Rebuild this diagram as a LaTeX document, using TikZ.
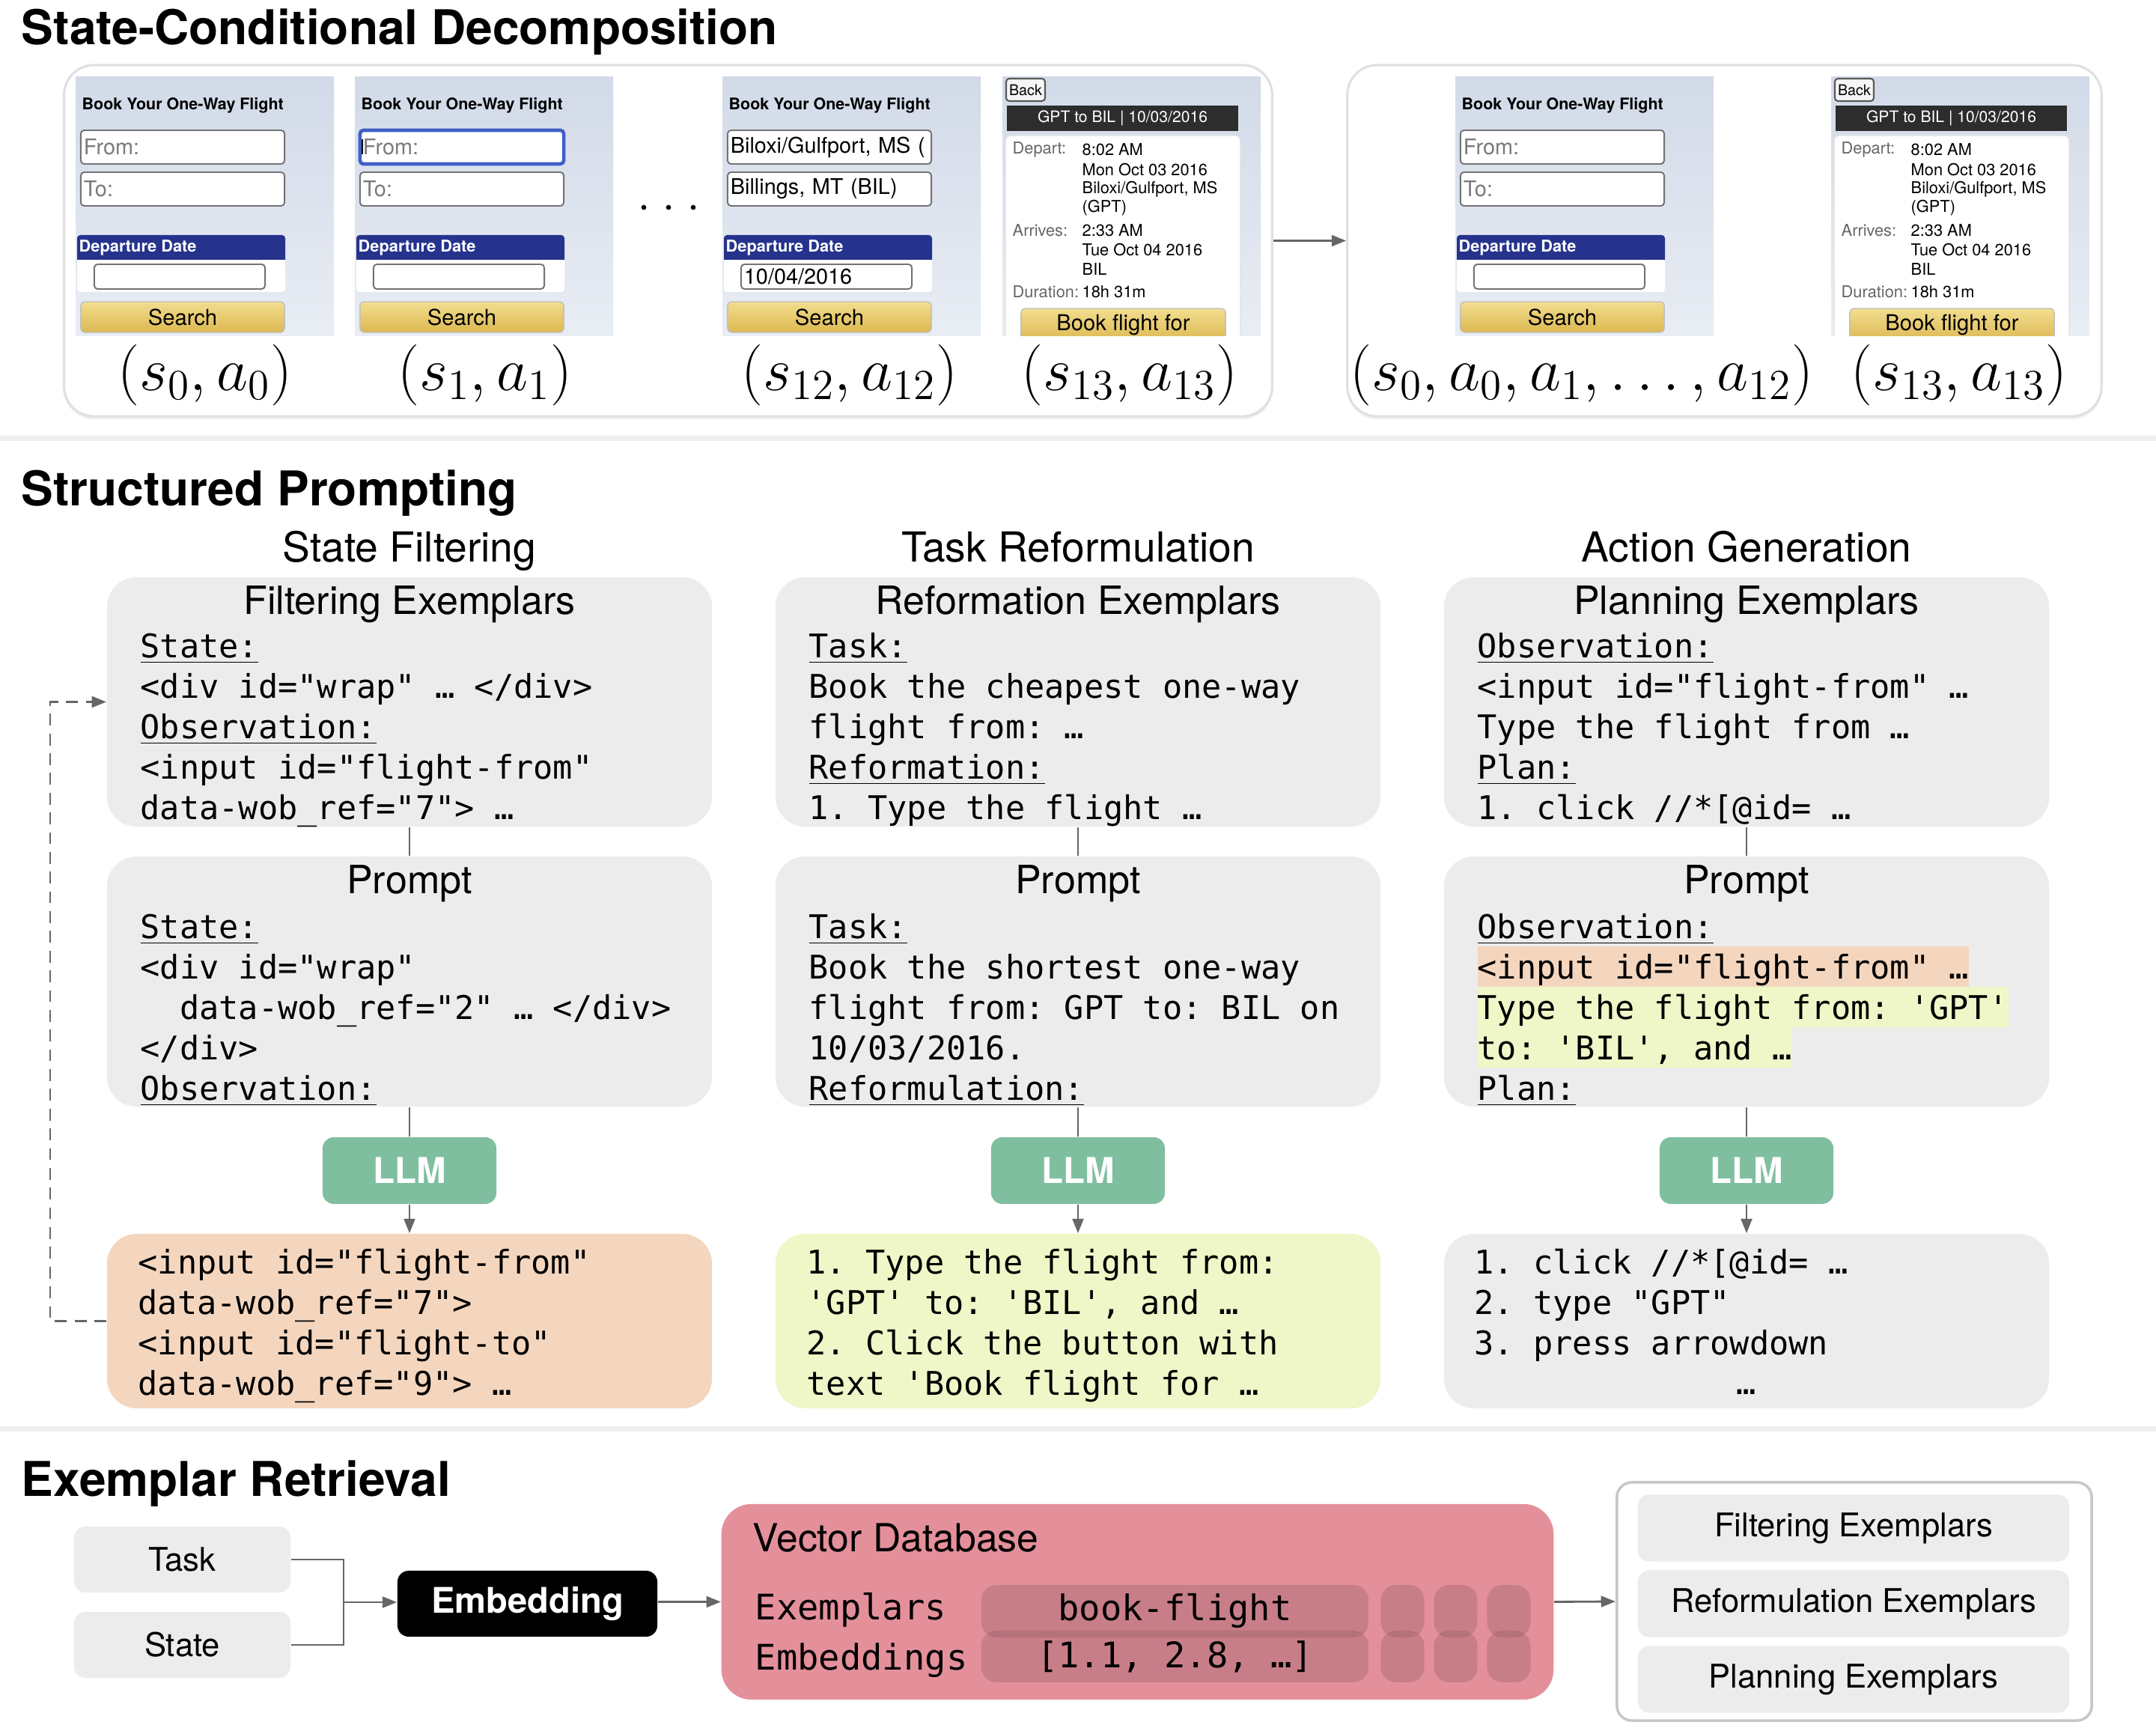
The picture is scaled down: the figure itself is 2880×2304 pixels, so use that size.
\RequirePackage{fix-cm}
\documentclass[tikz,border=0pt]{standalone}
\usepackage{fontspec}
\setsansfont{TeX Gyre Heros}
\setmonofont{DejaVu Sans Mono}
\usepackage{tikz}
\usetikzlibrary{arrows.meta,positioning,shadows}

\definecolor{cardgray}{HTML}{ECECEC}
\definecolor{sepgray}{HTML}{EEEEEE}
\definecolor{llmgreen}{HTML}{7FBFA0}
\definecolor{peach}{HTML}{F4D6BE}
\definecolor{lime}{HTML}{EFF6C7}
\definecolor{dbpink}{HTML}{E4909B}
\definecolor{pilldark}{HTML}{8F5B63}
\definecolor{linegray}{HTML}{666666}
\definecolor{pantop}{HTML}{D2DAE8}
\definecolor{panbot}{HTML}{E9EDF4}
\definecolor{navy}{HTML}{25338D}
\definecolor{goldtop}{HTML}{F2DD8F}
\definecolor{goldbot}{HTML}{DCB852}
\definecolor{focusblue}{HTML}{3F5FC8}
\definecolor{barblack}{HTML}{2D2D2D}
\definecolor{phgray}{HTML}{7A7A7A}

\setlength{\fboxsep}{0pt}
\newcommand{\codestrut}{\rule[-3pt]{0pt}{15.36pt}}
\newcommand{\hlline}[2]{\colorbox{#1}{\codestrut#2}}
\newcommand{\codefont}{\ttfamily\fontsize{12.4}{15.36}\selectfont}

\tikzset{
  sechead/.style={anchor=base west, inner sep=0, font=\sffamily\bfseries\fontsize{18.2}{21}\selectfont},
  colhead/.style={anchor=base, inner sep=0, font=\sffamily\fontsize{15.7}{18}\selectfont},
  cardhead/.style={anchor=base, inner sep=0, font=\sffamily\fontsize{14.8}{17}\selectfont},
  card/.style={rectangle, rounded corners=0.4cm, minimum width=8.08cm, inner sep=0},
  codetext/.style={anchor=north west, inner sep=0, align=left, font=\codefont},
  llm/.style={rectangle, rounded corners=0.15cm, fill=llmgreen, minimum width=2.32cm, minimum height=0.89cm, text=white, font=\sffamily\bfseries\fontsize{13.5}{15}\selectfont},
  link/.style={draw=linegray, line width=0.8pt},
  arr/.style={link, -{Triangle[length=5.5pt,width=4.2pt]}},
  feedback/.style={link, dash pattern=on 4.5pt off 3pt, -{Triangle[length=5.5pt,width=4.2pt]}},
  strip/.style={rectangle, rounded corners=0.4cm, fill=white, draw=black!12, line width=0.9pt, inner sep=0, drop shadow={shadow xshift=0pt, shadow yshift=-1.2pt, opacity=0.12}},
  mathlab/.style={inner sep=0, font=\fontsize{23.2}{27}\selectfont},
  smallbox/.style={rectangle, rounded corners=0.15cm, fill=cardgray, minimum height=0.88cm, inner sep=0, font=\sffamily\fontsize{12.4}{14}\selectfont},
  dbmono/.style={inner sep=0, font=\ttfamily\fontsize{13.4}{16}\selectfont},
  pill/.style={rectangle, rounded corners=0.2cm, fill=pilldark, fill opacity=0.33, text opacity=1, inner sep=0, dbmono},
  % browser screenshot parts
  shottitle/.style={anchor=base west, inner sep=0, font=\sffamily\bfseries\fontsize{6.1}{7}\selectfont},
  inputbox/.style={rectangle, fill=white, draw=black!55, line width=0.55pt, rounded corners=1.3pt, text width=2.64cm, minimum height=0.45cm, inner xsep=0.04cm, inner ysep=0pt, align=left, font=\sffamily\fontsize{8.2}{9}\selectfont},
  datehead/.style={anchor=west, inner sep=0, text=white, font=\sffamily\bfseries\fontsize{6.2}{7}\selectfont},
  goldbtn/.style={rectangle, top color=goldtop, bottom color=goldbot, draw=black!25, line width=0.4pt, rounded corners=1.5pt, inner sep=0, font=\sffamily\fontsize{8.3}{9}\selectfont},
  backbtn/.style={rectangle, fill=black!4, draw=black!65, line width=0.6pt, rounded corners=1.2pt, minimum width=0.52cm, minimum height=0.30cm, inner sep=0, font=\sffamily\fontsize{5.6}{6}\selectfont},
  resbar/.style={rectangle, fill=barblack, minimum width=3.09cm, minimum height=0.34cm, inner sep=0, text=white, font=\sffamily\fontsize{6}{7}\selectfont},
  reslabel/.style={anchor=west, inner sep=0, text=black!60, font=\sffamily\fontsize{6.2}{7}\selectfont},
  resvalue/.style={anchor=west, inner sep=0, font=\sffamily\fontsize{6.2}{7}\selectfont},
}

% search form page: name, x, from-box style, from text, to text, date text
\newcommand{\formpanel}[6]{%
  \begin{scope}[shift={(#2,103)}]
    \shade[top color=pantop, bottom color=panbot] (0,0) rectangle (345,346);
    \node[shottitle] (#1title) at (8,44) {Book Your One-Way Flight};
    \node[inputbox, #3] (#1from) at (143,93.5) {\mbox{#4}};
    \node[inputbox] (#1to) at (143,149.5) {\mbox{#5}};
    \fill[white, rounded corners=1.2pt] (2,222) rectangle (280,287);
    \fill[navy] (2,244) [rounded corners=1.2pt] -- (2,211) -- (280,211) [sharp corners] -- (280,244) -- cycle;
    \node[datehead] (#1datehead) at (4,228) {Departure Date};
    \node[inputbox, text width=2.2cm, minimum height=0.33cm] (#1date) at (139,266.5) {#6};
    \node[goldbtn, minimum width=2.72cm, minimum height=0.41cm] (#1search) at (143,320.5) {Search};
  \end{scope}}

% flight result page: name, x
\newcommand{\resultpanel}[2]{%
  \begin{scope}[shift={(#2,103)}]
    \begin{scope}
      \clip (0,0) rectangle (345,346);
      \shade[top color=pantop, bottom color=panbot] (0,0) rectangle (345,346);
      \node[backbtn] (#1back) at (31,17) {Back};
      \node[resbar] (#1bar) at (160.5,55) {GPT to BIL | 10/03/2016};
      \filldraw[fill=white, draw=black!12, line width=0.4pt] (4,350) [rounded corners=2pt] -- (4,78) -- (318,78) [sharp corners] -- (318,350) -- cycle;
      \foreach \yy/\txt [count=\k] in {97/Depart:, 205/Arrives:, 287/Duration:}
        \node[reslabel] (#1lab\k) at (13,\yy) {\txt};
      \foreach \yy/\txt [count=\k] in {97/8:02 AM, 124/Mon Oct 03 2016, 150/{Biloxi/Gulfport, MS}, 175/(GPT), 205/2:33 AM, 231/Tue Oct 04 2016, 257/BIL, 287/18h 31m}
        \node[resvalue] (#1val\k) at (106,\yy) {\txt};
      \node[goldbtn, minimum width=2.73cm, minimum height=0.45cm] (#1book) at (161.5,331.5) {Book flight for};
    \end{scope}
  \end{scope}}

\begin{document}
\begin{tikzpicture}[x=0.01cm, y=-0.01cm]
  \useasboundingbox (0,0) rectangle (2880,2304);

  % State-conditional decomposition
  \node[sechead] (sechead1) at (28,60) {State-Conditional Decomposition};
  \node[strip, minimum width=16.13cm, minimum height=4.69cm] (fullstrip) at (892.5,321.5) {};
  \node[strip, minimum width=10.07cm, minimum height=4.69cm] (condstrip) at (2303.5,321.5) {};
  \draw[arr] (fullstrip.east) -- (condstrip.west);

  \formpanel{s0}{101}{}{\textcolor{phgray}{From:}}{\textcolor{phgray}{To:}}{}
  \formpanel{s1}{474}{draw=focusblue, line width=1.3pt}{\textcolor{phgray}{From:}}{\textcolor{phgray}{To:}}{}
  \draw[line width=0.6pt] ([xshift=0.05cm, yshift=-0.1cm]s1from.west) -- ([xshift=0.05cm, yshift=0.1cm]s1from.west);
  \formpanel{s12}{965}{}{Biloxi/Gulfport, MS (}{Billings, MT (BIL)}{10/04/2016}
  \resultpanel{s13}{1339}
  \formpanel{c0}{1944}{}{\textcolor{phgray}{From:}}{\textcolor{phgray}{To:}}{}
  \resultpanel{c13}{2446}

  % skipped steps
  \foreach \dx in {860,893,926}
    \fill (\dx,277) circle (0.95pt);

  % state-action labels
  \node[mathlab] (lab0) at (274,501) {$(s_0, a_0)$};
  \node[mathlab] (lab1) at (648,501) {$(s_1, a_1)$};
  \node[mathlab] (lab12) at (1135,501) {$(s_{12}, a_{12})$};
  \node[mathlab] (lab13) at (1509,501) {$(s_{13}, a_{13})$};
  \node[mathlab] (labc0) at (2113,501) {$(s_0, a_0, a_1, \ldots, a_{12})$};
  \node[mathlab] (labc13) at (2617,501) {$(s_{13}, a_{13})$};

  % section rules
  \fill[sepgray] (0,582) rectangle (2880,589);
  \fill[sepgray] (0,1905) rectangle (2880,1912);

  % Structured prompting
  \node[sechead] (sechead2) at (28,676) {Structured Prompting};
  \foreach \cx/\ctext/\cname in {547/State Filtering/filter, 1440/Task Reformulation/reform, 2333/Action Generation/action}
    \node[colhead] (\cname head) at (\cx,751) {\ctext};

  % exemplar cards
  \node[card, fill=cardgray, minimum height=3.33cm] (ex1) at (547,937.5) {};
  \node[card, fill=cardgray, minimum height=3.33cm] (ex2) at (1440,937.5) {};
  \node[card, fill=cardgray, minimum height=3.33cm] (ex3) at (2333,937.5) {};
  \node[cardhead] (ex1head) at (547,821) {Filtering Exemplars};
  \node[cardhead] (ex2head) at (1440,821) {Reformation Exemplars};
  \node[cardhead] (ex3head) at (2333,821) {Planning Exemplars};
  \node[codetext] (ex1text) at (187,834.6) {\codestrut\underline{State:}\\
    <div id="wrap" … </div>\\
    \underline{Observation:}\\
    <input id="flight-from"\\
    data-wob\_ref="7"> …};
  \node[codetext] (ex2text) at (1080,834.6) {\codestrut\underline{Task:}\\
    Book the cheapest one-way\\
    flight from: …\\
    \underline{Reformation:}\\
    1. Type the flight …};
  \node[codetext] (ex3text) at (1973,834.6) {\codestrut\underline{Observation:}\\
    <input id="flight-from" …\\
    Type the flight from …\\
    \underline{Plan:}\\
    1. click //*[@id= …};

  % prompt cards
  \node[card, fill=cardgray, minimum height=3.34cm] (pr1) at (547,1311) {};
  \node[card, fill=cardgray, minimum height=3.34cm] (pr2) at (1440,1311) {};
  \node[card, fill=cardgray, minimum height=3.34cm] (pr3) at (2333,1311) {};
  \foreach \i/\cx in {1/547, 2/1440, 3/2333}
    \node[cardhead] (pr\i head) at (\cx,1194) {Prompt};
  \node[codetext] (pr1text) at (187,1209.6) {\codestrut\underline{State:}\\
    <div id="wrap"\\
    \phantom{xx}data-wob\_ref="2" … </div>\\
    </div>\\
    \underline{Observation:}};
  \node[codetext] (pr2text) at (1080,1209.6) {\codestrut\underline{Task:}\\
    Book the shortest one-way\\
    flight from: GPT to: BIL on\\
    10/03/2016.\\
    \underline{Reformulation:}};
  \node[codetext] (pr3text) at (1973,1209.6) {\codestrut\underline{Observation:}\\
    \hlline{peach}{<input id="flight-from" …}\\
    \hlline{lime}{Type the flight from: 'GPT'}\\
    \hlline{lime}{to: 'BIL', and …}\\
    \underline{Plan:}};

  % LLM calls
  \foreach \i/\cx in {1/547, 2/1440, 3/2333}
    \node[llm] (llm\i) at (\cx,1563.5) {LLM};

  % outputs
  \node[card, fill=peach, minimum height=2.33cm] (out1) at (547,1764.5) {};
  \node[card, fill=lime, minimum height=2.33cm] (out2) at (1440,1764.5) {};
  \node[card, fill=cardgray, minimum height=2.33cm] (out3) at (2333,1764.5) {};
  \node[codetext] (out1text) at (184,1657.6) {\codestrut<input id="flight-from"\\
    data-wob\_ref="7">\\
    <input id="flight-to"\\
    data-wob\_ref="9"> …};
  \node[codetext] (out2text) at (1077,1657.6) {\codestrut1. Type the flight from:\\
    'GPT' to: 'BIL', and …\\
    2. Click the button with\\
    text 'Book flight for …};
  \node[codetext] (out3text) at (1969,1657.6) {\codestrut1. click //*[@id= …\\
    2. type "GPT"\\
    3. press arrowdown};
  \node[codetext, anchor=base] (out3more) at (2333,1863) {…};

  % column flow
  \foreach \i in {1,2,3} {
    \draw[link] (ex\i.south) -- (pr\i.north);
    \draw[link] (pr\i.south) -- (llm\i.north);
    \draw[arr] (llm\i.south) -- (out\i.north);
  }
  \draw[feedback] (out1.west) -- ++(-75,0) |- (ex1.west);

  % Exemplar retrieval
  \node[sechead] (sechead3) at (28,1998) {Exemplar Retrieval};
  \node[smallbox, minimum width=2.89cm] (task) at (243.5,2083) {Task};
  \node[smallbox, minimum width=2.89cm] (state) at (243.5,2197) {State};
  \coordinate (merge) at (459,2140);
  \draw[link] (task.east) -| (merge) |- (state.east);
  \node[rectangle, rounded corners=0.15cm, fill=black, minimum width=3.47cm, minimum height=0.88cm, text=white, font=\sffamily\bfseries\fontsize{13.4}{15}\selectfont] (embed) at (704.5,2142) {Embedding};
  \draw[arr] (merge) -- (embed.west |- merge);

  \node[rectangle, rounded corners=0.4cm, fill=dbpink, minimum width=11.11cm, minimum height=2.61cm] (vdb) at (1519.5,2139.5) {};
  \draw[arr] (embed.east |- vdb) -- (vdb.west);
  \node[anchor=base west, inner sep=0, font=\sffamily\fontsize{14.7}{17}\selectfont] (vdbtitle) at (1005,2073) {Vector Database};
  \node[dbmono, anchor=base west] (exlabel) at (1008,2163) {Exemplars};
  \node[dbmono, anchor=base west] (emblabel) at (1008,2230) {Embeddings};
  \node[pill, minimum width=5.17cm, minimum height=0.70cm] (dbtop) at (1569.5,2152) {book-flight};
  \node[pill, minimum width=5.17cm, minimum height=0.69cm] (dbbot) at (1569.5,2212.5) {[1.1, 2.8, …]};
  \foreach \px [count=\k] in {1873.5,1944.5,2015.5} {
    \node[pill, minimum width=0.58cm, minimum height=0.70cm] (dbtop\k) at (\px,2152) {};
    \node[pill, minimum width=0.58cm, minimum height=0.69cm] (dbbot\k) at (\px,2212.5) {};
  }

  \node[rectangle, rounded corners=0.2cm, draw=black!22, line width=1pt, fill=white, minimum width=6.34cm, minimum height=3.18cm] (picked) at (2477,2139) {};
  \draw[arr] (vdb.east) -- (picked.west);
  \foreach \yy/\txt [count=\k] in {2041/Filtering Exemplars, 2142/Reformulation Exemplars, 2243/Planning Exemplars}
    \node[smallbox, minimum width=5.76cm, minimum height=0.89cm] (pick\k) at (2476,\yy) {\txt};
\end{tikzpicture}
\end{document}
